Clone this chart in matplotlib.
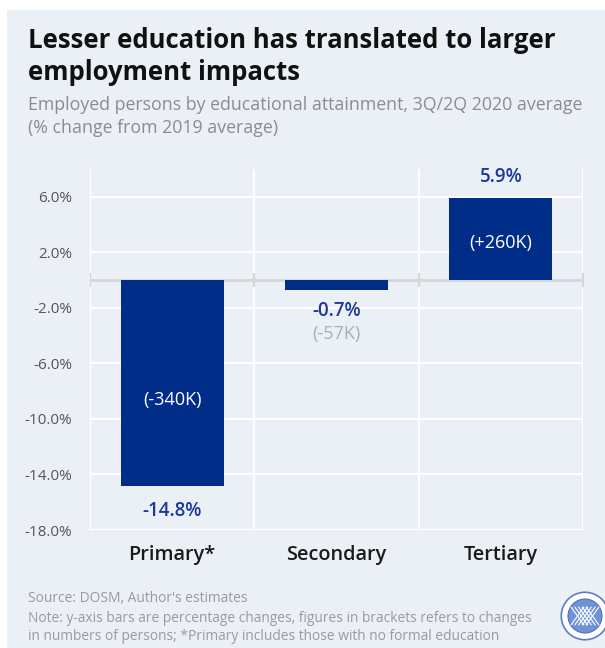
import matplotlib.pyplot as plt
from matplotlib.patches import Rectangle, Circle
import numpy as np

plt.rcParams['font.family'] = ['Open Sans', 'DejaVu Sans']

# employed persons, % change vs 2019 average
categories = ['Primary*', 'Secondary', 'Tertiary']
pct_change = [-14.8, -0.7, 5.9]
persons_change = ['(-340K)', '(-57K)', '(+260K)']
yticks = [6.0, 2.0, -2.0, -6.0, -10.0, -14.0, -18.0]

BG = '#ebf0f7'
BAR = '#002d87'
VAL = '#1b3a96'

fig = plt.figure(figsize=(6.05, 6.48), dpi=100)
fig.patch.set_facecolor('white')
fig.patches.append(Rectangle((7 / 605, 0), 1, 1 - 10 / 648, transform=fig.transFigure,
                             facecolor=BG, edgecolor='none', zorder=-10))

ax = fig.add_axes([90 / 605, 1 - 530 / 648, 493 / 605, 361 / 648])
ax.set_facecolor(BG)
x = np.arange(len(categories))
ax.bar(x, pct_change, width=0.625, color=BAR, zorder=3)

ax.set_xlim(-0.5, 2.5)
ax.set_ylim(-18, 8)
ax.set_yticks(yticks)
ax.set_yticklabels(['%.1f%%' % t for t in yticks], fontsize=11, color='#555555')
ax.set_xticks(x)
ax.set_xticklabels(categories, fontsize=14.3, fontweight='semibold', color='#1a1a1a')
ax.tick_params(axis='x', length=0, pad=11)
ax.tick_params(axis='y', length=0, pad=13)
for s in ax.spines.values():
    s.set_visible(False)

# white grid: horizontal at ticks, vertical between categories
for t in yticks:
    ax.axhline(t, color='white', lw=1.6, zorder=1)
for b in [-0.5, 0.5, 1.5, 2.5]:
    ax.axvline(b, color='white', lw=1.6, zorder=1)
    ax.plot([b], [0], marker='|', markersize=10, mew=1.6, color='#d6d6d6', zorder=2)
ax.axhline(0, color='#d6d6d6', lw=2, zorder=2)

# value labels
for i, v in enumerate(pct_change):
    off = 15 if v > 0 else -15
    if i == 0:
        off = -18
    ax.annotate('%.1f%%' % v, (x[i], v), xytext=(0, off), textcoords='offset points',
                ha='center', va='center', fontsize=13.5, fontweight='semibold',
                color=VAL, zorder=4)

# person-count labels
ax.text(x[0], -8.65, persons_change[0], ha='center', va='center', fontsize=13,
        color='white', zorder=4)
ax.annotate(persons_change[1], (x[1], pct_change[1]), xytext=(0, -32),
            textcoords='offset points', ha='center', va='center', fontsize=13,
            color='#a9afba', zorder=4)
ax.text(x[2], 2.7, persons_change[2], ha='center', va='center', fontsize=13,
        color='white', zorder=4)

# headings
fig.text(28 / 605, 1 - 40 / 648, 'Lesser education has translated to larger',
         fontsize=18.5, fontweight='bold', color='#111111', va='center')
fig.text(28 / 605, 1 - 73 / 648, 'employment impacts',
         fontsize=18.5, fontweight='bold', color='#111111', va='center')
fig.text(28 / 605, 1 - 105 / 648,
         'Employed persons by educational attainment, 3Q/2Q 2020 average',
         fontsize=12.8, color='#8c8c8c', va='center')
fig.text(28 / 605, 1 - 128 / 648, '(% change from 2019 average)',
         fontsize=12.8, color='#8c8c8c', va='center')

# footnotes
notes = ["Source: DOSM, Author's estimates",
         'Note: y-axis bars are percentage changes, figures in brackets refers to changes',
         'in numbers of persons; *Primary includes those with no formal education']
for k, line in enumerate(notes):
    fig.text(28 / 605, 1 - (599 + 19 * k) / 648, line, fontsize=9.9,
             color='#9a9a9a', va='center')

# emblem
lx, ly = 585 / 605, 1 - 616 / 648
logo_ax = fig.add_axes([lx - 25 / 605, ly - 25 / 648, 50 / 605, 50 / 648])
logo_ax.set_xlim(-1, 1)
logo_ax.set_ylim(-1, 1)
logo_ax.set_aspect('equal')
logo_ax.axis('off')
logo_ax.add_patch(Circle((0, 0), 0.95, facecolor='white', edgecolor='#5b7fc4', lw=1.2))
logo_ax.add_patch(Circle((0, 0), 0.68, facecolor='#6f93d3', edgecolor='#4f74bd', lw=0.8))
for dx in [-0.3, -0.15, 0, 0.15, 0.3]:
    logo_ax.plot([dx - 0.25, dx + 0.25], [-0.35, 0.35], color='white', lw=0.8)
    logo_ax.plot([dx + 0.25, dx - 0.25], [-0.35, 0.35], color='white', lw=0.8)

fig.savefig('out.png', dpi=100, facecolor=fig.get_facecolor())
